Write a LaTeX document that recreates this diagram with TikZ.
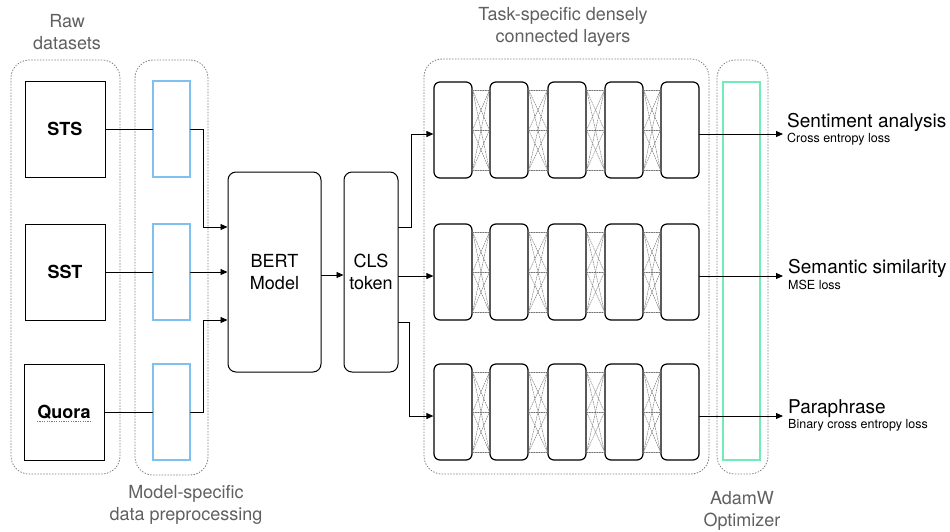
\documentclass[tikz,border=0pt]{standalone}
\usepackage{fontspec}
\setmainfont{TeX Gyre Heros}
\usepackage{tikz}
\usetikzlibrary{arrows.meta}
\definecolor{prebl}{RGB}{126,192,238}
\definecolor{optgr}{RGB}{112,236,184}
\definecolor{capgray}{RGB}{96,96,96}
\definecolor{squig}{RGB}{240,70,70}

\begin{document}
\begin{tikzpicture}[x=1pt,y=-1pt,line cap=round,>={Triangle[length=7pt,width=6pt]}]
	\tikzstyle{grp}=[draw=gray,dotted,line width=0.9pt,rounded corners=18pt,inner sep=0pt];
	\tikzstyle{grpcap}=[text=capgray,font=\fontsize{18}{22}\selectfont,align=center,anchor=north,inner sep=0pt];
	\tikzstyle{dset}=[draw,line width=0.9pt,minimum width=80pt,minimum height=96pt,inner sep=0pt,font=\fontsize{18}{22}\selectfont\bfseries];
	\tikzstyle{prep}=[draw=prebl,line width=1.3pt,minimum width=37pt,minimum height=96pt,inner sep=0pt];
	\tikzstyle{blk}=[draw,line width=1pt,rounded corners=8pt,align=center,inner sep=0pt,font=\fontsize{18}{22}\selectfont];
	\tikzstyle{layer}=[draw,fill=white,line width=1.2pt,rounded corners=6pt,minimum width=38pt,minimum height=96pt,inner sep=0pt];
	\tikzstyle{mesh}=[black!55,line width=0.45pt,dash pattern=on 1.5pt off 1pt];
	\tikzstyle{wire}=[line width=0.9pt];
	\tikzstyle{task}=[anchor=base west,inner sep=0pt,font=\fontsize{19}{22}\selectfont];
	\tikzstyle{loss}=[anchor=base west,inner sep=0pt,font=\fontsize{12.5}{14}\selectfont];
	\useasboundingbox (0,0) rectangle (950,531);
	% dotted groups and their captions
	\node[grp,minimum width=109pt,minimum height=414pt] (rawgrp)   at (65.5,267)   {};
	\node[grp,minimum width=73pt,minimum height=415pt]  (pregrp)   at (171.5,267.5) {};
	\node[grp,minimum width=285pt,minimum height=415pt] (densegrp) at (566.5,266.5) {};
	\node[grp,minimum width=51pt,minimum height=414pt]  (adamgrp)  at (742.5,267)   {};
	\node[grpcap] (rawcap)   at (67,14)   {Raw\\datasets};
	\node[grpcap] (densecap) at (563,7)   {Task-specific densely\\connected layers};
	\node[grpcap] (precap)   at (186,485) {Model-specific\\data preprocessing};
	\node[grpcap] (adamcap)  at (742,491) {AdamW\\Optimizer};
	% datasets and preprocessing
	\node[dset] (sts)   at (65,129) {STS};
	\node[dset] (sst)   at (65,272) {SST};
	\node[dset] (quora) at (64,412) {Quora};
	\draw[squig,line width=1pt,line cap=butt,dash pattern=on 1.2pt off 1.2pt] (37,421.5) -- (91,421.5);
	\node[prep] (pre1) at (171.5,129) {};
	\node[prep] (pre2) at (171.5,272) {};
	\node[prep] (pre3) at (171.5,412) {};
	\node[blk,minimum width=93pt,minimum height=200pt] (bert) at (274.5,272) {BERT\\Model};
	\node[blk,minimum width=54pt,minimum height=200pt] (cls)  at (371,272)   {CLS\\token};
	% dense heads
	\foreach \r/\y in {1/130,2/272,3/412}
		\foreach \c/\x in {1/453,2/509,3/567,4/624,5/680}
			\node[layer] (l\r\c) at (\x,\y) {};
	\foreach \r in {1,2,3}
		\foreach \c/\n in {1/2,2/3,3/4,4/5}
			\foreach \a in {-40,0,40}
				\foreach \b in {-40,0,40}
					\draw[mesh] ([yshift=\a pt]l\r\c.east) -- ([yshift=\b pt]l\r\n.west);
	\node[draw=optgr,line width=1.3pt,minimum width=37pt,minimum height=378pt,inner sep=0pt] (adamw) at (741.5,271) {};
	% wiring
	\draw[wire] (sts) -- (pre1);
	\draw[wire] (sst) -- (pre2);
	\draw[wire] (quora) -- (pre3);
	\draw[wire,->] (pre1.east) -- ++(13,0) |- ([yshift=45pt]bert.west);
	\draw[wire,->] (pre2) -- (bert);
	\draw[wire,->] (pre3.east) -- ++(13,0) |- ([yshift=-48pt]bert.west);
	\draw[wire,->] ([yshift=-3pt]bert.east) -- ([yshift=-3pt]cls.west);
	\draw[wire,->] ([yshift=45pt]cls.east) -- ++(13,0) |- ([yshift=-4pt]l11.west);
	\draw[wire,->] ([yshift=-4pt]cls.east) -- ([yshift=-4pt]l21.west);
	\draw[wire,->] ([yshift=-50pt]cls.east) -- ++(11,0) |- ([yshift=-4pt]l31.west);
	\foreach \r/\y in {1/134,2/276,3/416}
		\coordinate (out\r) at (783,\y);
	\foreach \r in {1,2,3}
		\draw[wire,->] ([yshift=-4pt]l\r5.east) -- (out\r);
	% heads and losses
	\node[task] (task1) at (787,127) {Sentiment analysis};
	\node[loss] (loss1) at (787,142) {Cross entropy loss};
	\node[task] (task2) at (788,273) {Semantic similarity};
	\node[loss] (loss2) at (788,289) {MSE loss};
	\node[task] (task3) at (788,413) {Paraphrase};
	\node[loss] (loss3) at (788,428) {Binary cross entropy loss};
\end{tikzpicture}
\end{document}
